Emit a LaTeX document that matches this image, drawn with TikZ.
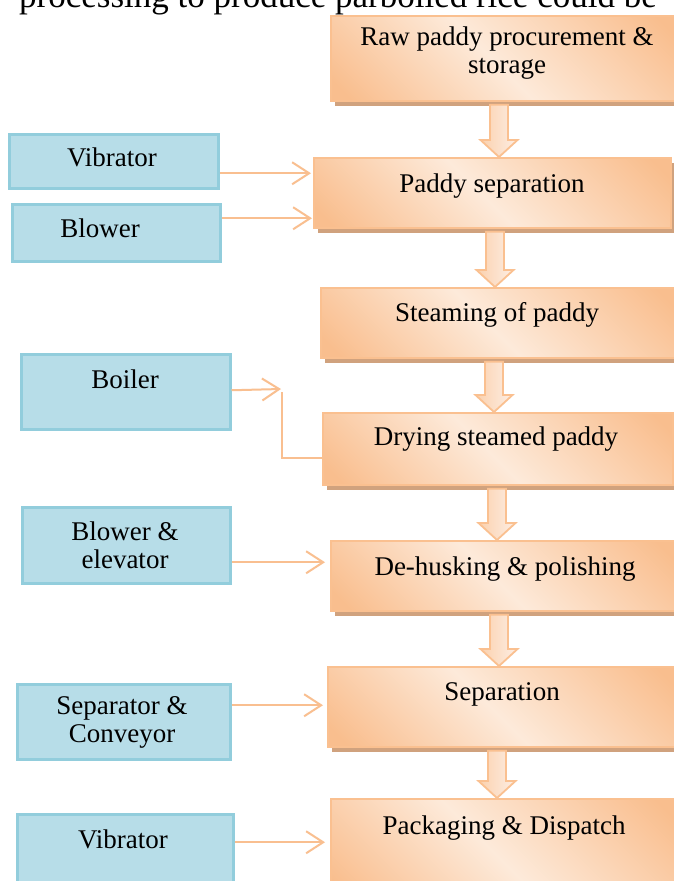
\documentclass[tikz,border=0pt]{standalone}
\usepackage{fontspec}
\setmainfont{Liberation Serif}
\usetikzlibrary{arrows.meta,shadows,calc}
\definecolor{oD}{HTML}{F9BE8E}
\definecolor{oL}{HTML}{FDEADA}
\definecolor{oB}{HTML}{FAC090}
\definecolor{oC}{HTML}{F9BF90}
\definecolor{shc}{HTML}{D0A27E}
\definecolor{bF}{HTML}{B7DDE8}
\definecolor{bB}{HTML}{92CDDC}
\definecolor{aL}{HTML}{FBD1AE}
\definecolor{aR}{HTML}{FDEEE4}
\pgfdeclarehorizontalshading{orangediag}{100bp}{color(0bp)=(oD); color(18bp)=(oD); color(48bp)=(oL); color(82bp)=(oD); color(100bp)=(oD)}
\newcommand{\blockarrowdraw}[3]{%
  \path[blk] let \p1=(#2.south), \p2=(#3.north) in
    (#1pt-9pt,\y1-3pt) -- (#1pt+9pt,\y1-3pt) -- (#1pt+9pt,\y2+17pt) -- (#1pt+18.5pt,\y2+17pt)
    -- (#1pt,\y2) -- (#1pt-18.5pt,\y2+17pt) -- (#1pt-9pt,\y2+17pt) -- cycle;}
\tikzset{
  obox/.style={rectangle, draw=oB, line width=1.8pt, shading=orangediag, shading angle=45,
    drop shadow={shadow xshift=4pt, shadow yshift=-5pt, fill=shc, opacity=1},
    anchor=north west, inner sep=0pt},
  bbox/.style={rectangle, draw=bB, line width=2.5pt, fill=bF, anchor=north west, inner sep=0pt},
  lbl/.style={font=\fontsize{27}{28}\selectfont, inner sep=0pt, align=center},
  conn/.style={draw=oC, line width=2pt, -{Straight Barb[length=17pt,width=22pt]}},
  plainline/.style={draw=oC, line width=2pt},
  blk/.style={draw=oB, line width=1.8pt, left color=aL, right color=aR, line join=miter},
}
\begin{document}
\begin{tikzpicture}[x=1pt,y=-1pt]
\fill[white] (0,0) rectangle (673,881);
\useasboundingbox (0,0) rectangle (673,881);

% cut-off line of text above the figure
\node[anchor=base west, inner sep=0pt, font=\fontsize{35}{40}\selectfont] (toptext) at (19,7) {processing to produce parboiled rice could be};

% process boxes
\node[obox, minimum width=346pt, minimum height=85pt] (b1) at (330,15) {};
\node[obox, minimum width=357pt, minimum height=70pt] (b2) at (313,157) {};
\node[obox, minimum width=356pt, minimum height=70pt] (b3) at (320,287) {};
\node[obox, minimum width=350pt, minimum height=72pt] (b4) at (322,412) {};
\node[obox, minimum width=346pt, minimum height=70pt] (b5) at (330,540) {};
\node[obox, minimum width=349pt, minimum height=80pt] (b6) at (327,666) {};
\node[obox, minimum width=346pt, minimum height=102pt] (b7) at (330,798) {};

\node[lbl] (t1) at (507,53) {Raw paddy procurement \&\\storage};
\node[lbl, anchor=base] (t2) at (492,192) {Paddy separation};
\node[lbl, anchor=base] (t3) at (497,321) {Steaming of paddy};
\node[lbl, anchor=base] (t4) at (496,445) {Drying steamed paddy};
\node[lbl, anchor=base] (t5) at (505,575) {De-husking \& polishing};
\node[lbl, anchor=base] (t6) at (502,700) {Separation};
\node[lbl, anchor=base] (t7) at (504,834) {Packaging \& Dispatch};

% block arrows
\blockarrowdraw{499}{b1}{b2}
\blockarrowdraw{495}{b2}{b3}
\blockarrowdraw{494}{b3}{b4}
\blockarrowdraw{497}{b4}{b5}
\blockarrowdraw{499}{b5}{b6}
\blockarrowdraw{497}{b6}{b7}

% equipment boxes
\node[bbox, minimum width=209pt, minimum height=54pt] (v1) at (8,133) {};
\node[bbox, minimum width=208pt, minimum height=57pt] (bl) at (11,203) {};
\node[bbox, minimum width=209pt, minimum height=75pt] (bo) at (20,353) {};
\node[bbox, minimum width=208pt, minimum height=76pt] (be) at (21,506) {};
\node[bbox, minimum width=213pt, minimum height=75pt] (sc) at (16,683) {};
\node[bbox, minimum width=216pt, minimum height=82pt] (v2) at (16,813) {};

\node[lbl, anchor=base] (tv1) at (112,166) {Vibrator};
\node[lbl, anchor=base] (tbl) at (100,237) {Blower};
\node[lbl, anchor=base] (tbo) at (125,388) {Boiler};
\node[lbl] (tbe) at (125,545) {Blower \&\\elevator};
\begin{scope}
\clip (sc.north west) rectangle ([yshift=12pt]sc.south east);
\node[lbl] (tsc) at (122,722) {Separator \&\\Conveyor};
\end{scope}
\node[lbl, anchor=base] (tv2) at (123,848) {Vibrator};

% connectors
\coordinate (c1) at ([yshift=-12pt]v1.east);
\draw[conn, shorten >=2pt] (c1) -- (c1 -| b2.west);
\coordinate (c2) at ([yshift=14.5pt]bl.east);
\draw[conn, shorten >=1pt] (c2) -- (c2 -| b2.west);
\coordinate (c3) at ([yshift=1.5pt]bo.east);
\coordinate (bj) at (281,389);
\draw[conn] (c3) -- (bj);
\coordinate (bk) at (282,392);
\coordinate (bm) at ([yshift=-9pt]b4.west);
\draw[plainline] (bk) |- (bm);
\coordinate (c4) at ([yshift=-17pt]be.east);
\draw[conn, shorten >=5pt] (c4) -- (c4 -| b5.west);
\coordinate (c5) at ([yshift=16.5pt]sc.east);
\draw[conn, shorten >=4pt] (c5) -- (c5 -| b6.west);
\coordinate (c6) at ([yshift=13pt]v2.east);
\draw[conn, shorten >=5pt] (c6) -- (c6 -| b7.west);
\end{tikzpicture}
\end{document}
